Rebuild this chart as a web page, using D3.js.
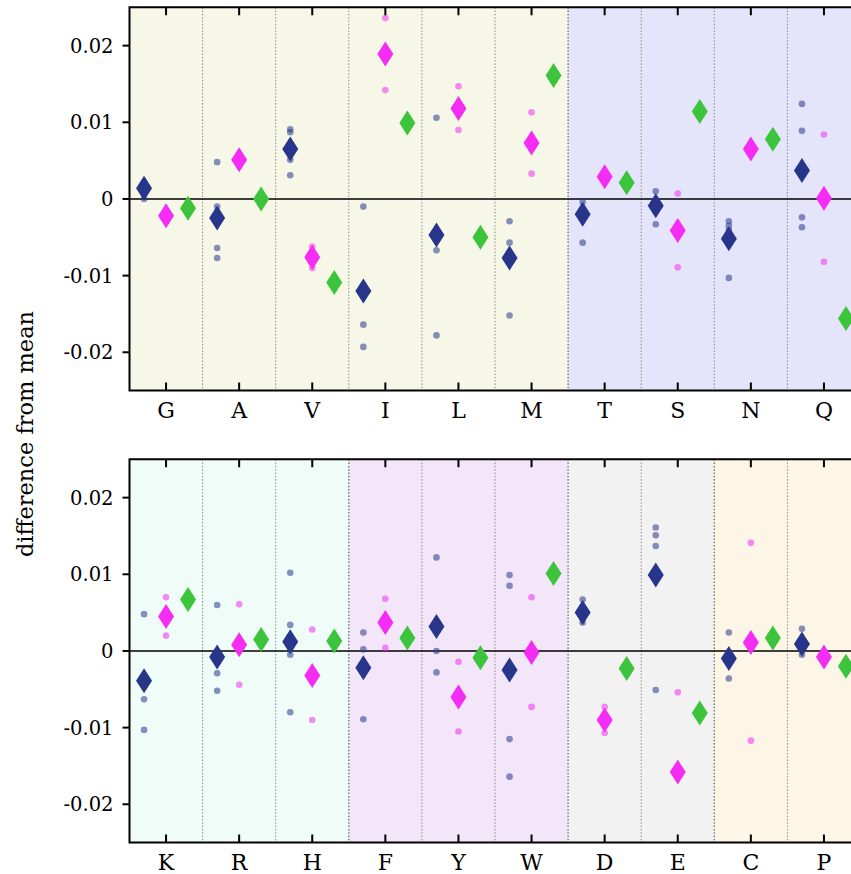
<!DOCTYPE html>
<html>
<head>
<meta charset="utf-8">
<script src="https://cdn.jsdelivr.net/npm/d3@7"></script>
<style>
  body { margin: 0; background: #fff; }
  svg text { font-family: "DejaVu Serif", "Liberation Serif", serif; fill: #000; }
</style>
</head>
<body>
<svg id="chart"></svg>
<script>
var viewWidth = 851;
var viewHeight = 874;

// top panel
var cats1 = ["G", "A", "V", "I", "L", "M", "T", "S", "N", "Q"];
var groups1 = [0, 0, 0, 0, 0, 0, 1, 1, 1, 1];
var navy1 = [0.0014, -0.0025, 0.0065, -0.0120, -0.0047, -0.0077, -0.0020, -0.0009, -0.0052, 0.0037];
var magenta1 = [-0.0022, 0.0051, -0.0076, 0.0189, 0.0118, 0.0073, 0.0029, -0.0041, 0.0065, 0.0001];
var green1 = [-0.0012, 0.0000, -0.0109, 0.0099, -0.0050, 0.0161, 0.0021, 0.0114, 0.0078, -0.0156];
var navyDots1 = [
  [0.0000, 0.0016, 0.0018, 0.0022],
  [0.0048, -0.0010, -0.0064, -0.0077],
  [0.0091, 0.0087, 0.0051, 0.0031],
  [-0.0010, -0.0113, -0.0164, -0.0193],
  [0.0106, -0.0049, -0.0067, -0.0178],
  [-0.0029, -0.0057, -0.0070, -0.0152],
  [-0.0004, -0.0019, -0.0020, -0.0057],
  [0.0010, -0.0006, -0.0007, -0.0033],
  [-0.0029, -0.0035, -0.0041, -0.0103],
  [0.0124, 0.0089, -0.0024, -0.0037]
];
var magentaDots1 = [
  [-0.0020, -0.0024],
  [0.0050, 0.0052],
  [-0.0062, -0.0090],
  [0.0236, 0.0142],
  [0.0147, 0.0090],
  [0.0113, 0.0033],
  [0.0028, 0.0030],
  [0.0007, -0.0089],
  [0.0064, 0.0066],
  [0.0084, -0.0082]
];

// bottom panel
var cats2 = ["K", "R", "H", "F", "Y", "W", "D", "E", "C", "P"];
var groups2 = [0, 0, 0, 1, 1, 1, 2, 2, 3, 3];
var navy2 = [-0.0039, -0.0008, 0.0012, -0.0022, 0.0032, -0.0025, 0.0050, 0.0099, -0.0010, 0.0009];
var magenta2 = [0.0045, 0.0008, -0.0032, 0.0037, -0.0060, -0.0002, -0.0090, -0.0158, 0.0011, -0.0008];
var green2 = [0.0067, 0.0015, 0.0013, 0.0017, -0.0009, 0.0101, -0.0023, -0.0081, 0.0017, -0.0020];
var navyDots2 = [
  [0.0048, -0.0038, -0.0063, -0.0103],
  [0.0060, -0.0011, -0.0029, -0.0052],
  [0.0102, 0.0034, -0.0005, -0.0080],
  [0.0024, 0.0002, -0.0025, -0.0089],
  [0.0122, 0.0034, 0.0000, -0.0028],
  [0.0099, 0.0085, -0.0115, -0.0164],
  [0.0067, 0.0050, 0.0046, 0.0037],
  [0.0161, 0.0151, 0.0137, -0.0051],
  [0.0024, -0.0014, -0.0014, -0.0036],
  [0.0029, 0.0006, 0.0006, -0.0005]
];
var magentaDots2 = [
  [0.0070, 0.0020],
  [0.0061, -0.0044],
  [0.0028, -0.0090],
  [0.0068, 0.0004],
  [-0.0014, -0.0105],
  [0.0070, -0.0073],
  [-0.0073, -0.0107],
  [-0.0054, -0.0262],
  [0.0141, -0.0117],
  [-0.0006, -0.0010]
];

var yTicks = [0.02, 0.01, 0, -0.01, -0.02];
var yTickLabels = ["0.02", "0.01", "0", "-0.01", "-0.02"];
var bg1 = ["#f6f7e6", "#e4e4fa"];
var bg2 = ["#f0fcf8", "#f2e6f8", "#f2f2f2", "#fdf5e5"];

var navyColor = "#27368a";
var magentaColor = "#f42cf4";
var greenColor = "#3cc43c";

var plotLeft = 129.5;
var plotWidth = 731;
var plotHeight = 383.3;

var svg = d3.select("#chart")
    .attr("width", viewWidth)
    .attr("height", viewHeight);

var x = d3.scaleBand()
  .range([0, plotWidth]);
var y = d3.scaleLinear()
  .domain([-0.025, 0.025])
  .range([plotHeight, 0]);

var offset = 22;
var diamond = "M0,-12.5L8,0L0,12.5L-8,0Z";

function drawPanel(top, id, cats, groups, bg, navy, magenta, green, navyDots, magentaDots) {
  x.domain(cats);
  var band = x.bandwidth();

  var g = svg.append("g")
      .attr("transform", "translate(" + plotLeft + "," + top + ")");

  g.append("clipPath").attr("id", id)
    .append("rect")
      .attr("width", plotWidth)
      .attr("height", plotHeight);

  g.selectAll(".bg")
    .data(cats)
    .enter().append("rect")
      .attr("class", "bg")
      .attr("x", function(d) { return x(d); })
      .attr("y", 0)
      .attr("width", band + 0.5)
      .attr("height", plotHeight)
      .style("fill", function(d, i) { return bg[groups[i]]; });

  // separators between categories
  g.selectAll(".sep")
    .data(cats.slice(1))
    .enter().append("line")
      .attr("class", "sep")
      .attr("x1", function(d) { return x(d); })
      .attr("x2", function(d) { return x(d); })
      .attr("y1", 0)
      .attr("y2", plotHeight)
      .style("stroke", function(d) {
        var i = cats.indexOf(d);
        return groups[i] != groups[i - 1] ? "#777" : "#8a8a8a";
      })
      .style("stroke-width", function(d) {
        var i = cats.indexOf(d);
        return groups[i] != groups[i - 1] ? 1.4 : 1;
      })
      .style("stroke-dasharray", "1.5,1.8");

  g.append("line")
    .attr("x1", 0).attr("x2", plotWidth)
    .attr("y1", y(0)).attr("y2", y(0))
    .style("stroke", "#000")
    .style("stroke-width", 1.6);

  var marks = g.append("g").attr("clip-path", "url(#" + id + ")");

  // small dots
  cats.forEach(function(c, i) {
    marks.selectAll(".nd" + i)
      .data(navyDots[i])
      .enter().append("circle")
        .attr("cx", x(c) + band / 2 - offset)
        .attr("cy", function(d) { return y(d); })
        .attr("r", 3.3)
        .style("fill", navyColor)
        .style("opacity", 0.55);
    marks.selectAll(".md" + i)
      .data(magentaDots[i])
      .enter().append("circle")
        .attr("cx", x(c) + band / 2)
        .attr("cy", function(d) { return y(d); })
        .attr("r", 3.3)
        .style("fill", magentaColor)
        .style("opacity", 0.55);
  });

  var series = [
    {vals: navy, color: navyColor, dx: -offset},
    {vals: magenta, color: magentaColor, dx: 0},
    {vals: green, color: greenColor, dx: offset}
  ];
  series.forEach(function(s) {
    marks.selectAll(null)
      .data(s.vals)
      .enter().append("path")
        .attr("d", diamond)
        .attr("transform", function(d, i) {
          return "translate(" + (x(cats[i]) + band / 2 + s.dx) + "," + y(d) + ")";
        })
        .style("fill", s.color);
  });

  // frame
  g.append("path")
    .attr("d", "M" + (plotWidth + 5) + ",0H0V" + plotHeight + "H" + (plotWidth + 5))
    .style("fill", "none")
    .style("stroke", "#000")
    .style("stroke-width", 2);

  // x ticks, inward at top and bottom
  g.selectAll(".xt")
    .data(cats)
    .enter().append("path")
      .attr("d", function(d) {
        var cx = x(d) + band / 2;
        return "M" + cx + ",0v8M" + cx + "," + plotHeight + "v-8";
      })
      .style("stroke", "#000")
      .style("stroke-width", 2);

  g.selectAll(".xl")
    .data(cats)
    .enter().append("text")
      .attr("x", function(d) { return x(d) + band / 2; })
      .attr("y", plotHeight + 27)
      .style("text-anchor", "middle")
      .style("font-size", "22px")
      .text(function(d) { return d; });

  // y axis
  g.selectAll(".yt")
    .data(yTicks)
    .enter().append("line")
      .attr("x1", -7).attr("x2", 0)
      .attr("y1", function(d) { return y(d); })
      .attr("y2", function(d) { return y(d); })
      .style("stroke", "#000")
      .style("stroke-width", 2);

  g.selectAll(".yl")
    .data(yTicks)
    .enter().append("text")
      .attr("x", -16)
      .attr("y", function(d) { return y(d); })
      .attr("dy", "0.36em")
      .style("text-anchor", "end")
      .style("font-size", "19.5px")
      .text(function(d, i) { return yTickLabels[i]; });
}

drawPanel(7.3, "clip1", cats1, groups1, bg1, navy1, magenta1, green1, navyDots1, magentaDots1);
drawPanel(459.3, "clip2", cats2, groups2, bg2, navy2, magenta2, green2, navyDots2, magentaDots2);

svg.append("text")
  .attr("transform", "translate(33,434) rotate(-90)")
  .style("text-anchor", "middle")
  .style("font-size", "22.5px")
  .text("difference from mean");
</script>
</body>
</html>
